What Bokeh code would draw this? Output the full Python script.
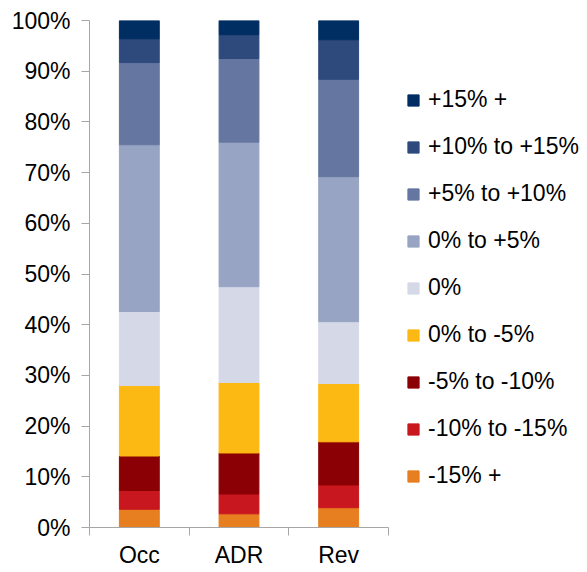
from bokeh.plotting import figure
from bokeh.models import (ColumnDataSource, Range1d, FixedTicker, PrintfTickFormatter,
                          Legend, LegendItem)
from bokeh.embed import file_html
from bokeh.resources import INLINE

categories = ["Occ", "ADR", "Rev"]
bands = ["-15% +", "-10% to -15%", "-5% to -10%", "0% to -5%", "0%",
         "0% to +5%", "+5% to +10%", "+10% to +15%", "+15% +"]
occ = [3.6, 3.7, 6.8, 13.9, 14.6, 32.9, 16.2, 4.7, 3.6]
adr = [2.7, 3.9, 8.1, 13.9, 18.9, 28.5, 16.5, 4.7, 2.8]
rev = [3.9, 4.5, 8.5, 11.5, 12.2, 28.6, 19.2, 7.8, 3.8]
colors = ["#E77E1F", "#C8171E", "#8B0004", "#FDB913", "#D5D9E7",
          "#97A4C3", "#6577A0", "#2E4A7D", "#002D62"]
y_ticks = list(range(0, 101, 10))

xs = [i + 0.5 for i in range(len(categories))]
data = {"x": xs}
for i, b in enumerate(bands):
    data[b] = [occ[i], adr[i], rev[i]]
src = ColumnDataSource(data)

FONT = "Liberation Sans"
FS = "23px"
AX = "#A6A6A6"

W, H = 587, 572
LEFT, TOP, BOTTOM, RIGHT = 89, 20, 45, 2
frame_w = W - LEFT - RIGHT
axis_px = 299  # pixel length of the category axis
x_end = len(categories) * frame_w / axis_px

p = figure(width=W, height=H, x_range=Range1d(0, x_end),
           y_range=Range1d(0, 100), output_backend="svg", toolbar_location=None,
           min_border_left=LEFT, min_border_right=RIGHT, min_border_top=TOP,
           min_border_bottom=BOTTOM)
p.outline_line_color = None
p.xgrid.visible = False
p.ygrid.visible = False
p.background_fill_color = "white"

rs = p.vbar_stack(bands, x="x", width=0.4, color=colors, source=src)

# y axis
p.yaxis.ticker = FixedTicker(ticks=y_ticks)
p.yaxis.formatter = PrintfTickFormatter(format="%d%%")
p.yaxis.axis_line_color = AX
p.yaxis.major_tick_line_color = AX
p.yaxis.major_tick_in = 0
p.yaxis.major_tick_out = 8
p.yaxis.minor_tick_line_color = None
p.yaxis.major_label_standoff = 11
p.yaxis.major_label_text_font = FONT
p.yaxis.major_label_text_font_size = FS
p.yaxis.major_label_text_color = "#000000"

# x axis
p.xaxis.bounds = (0, len(categories))
p.xaxis.ticker = FixedTicker(ticks=xs, minor_ticks=list(range(len(categories) + 1)))
p.xaxis.major_label_overrides = {x: c for x, c in zip(xs, categories)}
p.xaxis.axis_line_color = AX
p.xaxis.major_tick_line_color = None
p.xaxis.major_tick_in = 0
p.xaxis.major_tick_out = 0
p.xaxis.minor_tick_line_color = AX
p.xaxis.minor_tick_in = 0
p.xaxis.minor_tick_out = 8
p.xaxis.major_label_standoff = 6
p.xaxis.major_label_text_font = FONT
p.xaxis.major_label_text_font_size = FS
p.xaxis.major_label_text_color = "#000000"

items = [LegendItem(label=b, renderers=[r]) for b, r in zip(bands, rs)][::-1]
legend = Legend(items=items, location=(317, 38), border_line_color=None,
                background_fill_alpha=0, glyph_width=14, glyph_height=14,
                label_standoff=8, spacing=20, padding=0, margin=0,
                label_height=26, label_text_font=FONT,
                label_text_font_size=FS, label_text_color="#000000")
p.add_layout(legend, "center")

open("out.html", "w").write(file_html(p, INLINE))
